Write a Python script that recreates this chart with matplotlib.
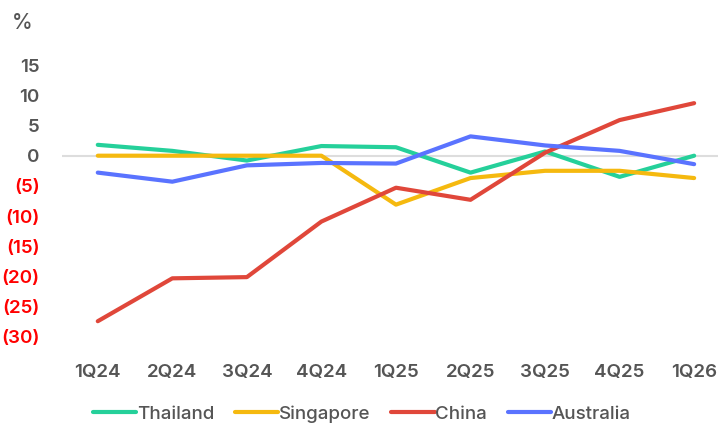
import numpy as np
import matplotlib
matplotlib.use("Agg")
import matplotlib.pyplot as plt

plt.rcParams['font.family'] = ['Inter', 'DejaVu Sans']

quarters = ['1Q24', '2Q24', '3Q24', '4Q24', '1Q25', '2Q25', '3Q25', '4Q25', '1Q26']
thailand = [1.8, 0.8, -0.8, 1.6, 1.4, -2.8, 0.7, -3.5, 0.0]
singapore = [0.0, 0.0, 0.0, 0.0, -8.1, -3.7, -2.5, -2.5, -3.7]
china = [-27.4, -20.3, -20.1, -10.9, -5.3, -7.3, 0.5, 5.9, 8.7]
australia = [-2.8, -4.3, -1.6, -1.2, -1.3, 3.2, 1.7, 0.8, -1.4]

yticks = [15, 10, 5, 0, -5, -10, -15, -20, -25, -30]
ytick_labels = ['15', '10', '5', '0', '(5)', '(10)', '(15)', '(20)', '(25)', '(30)']

series = [
    ('Thailand', thailand, '#25d09a'),
    ('Singapore', singapore, '#f5b90f'),
    ('China', china, '#e0473a'),
    ('Australia', australia, '#5a73ff'),
]

fig = plt.figure(figsize=(7.18, 4.23), dpi=100)
ax = fig.add_axes([62 / 718, 1 - 349 / 423, 1 - 62 / 718, (349 - 50) / 423])

x = np.arange(len(quarters))
ax.axhline(0, color='#dddddd', lw=1.5, zorder=1)
for name, vals, col in series:
    ax.plot(x, vals, color=col, lw=3.0, solid_capstyle='round', label=name, zorder=3)

ax.set_xlim(-0.48, 8.32)
ax.set_ylim(-32, 17.5)
ax.set_xticks(x)
ax.set_xticklabels(quarters, fontsize=13.5, fontweight=600, color='#555555')
ax.set_yticks(yticks)
ax.set_yticklabels(ytick_labels, fontsize=13.5, fontweight=600)
for lab, v in zip(ax.get_yticklabels(), yticks):
    lab.set_color('#ff0000' if v < 0 else '#555555')
ax.tick_params(axis='both', length=0)
ax.tick_params(axis='y', pad=16)
ax.tick_params(axis='x', pad=11)
for s in ax.spines.values():
    s.set_visible(False)

fig.text(12 / 718, 1 - 23 / 423, '%', fontsize=15, fontweight=500, color='#555555', va='center')

leg = fig.legend(loc='center', bbox_to_anchor=(362 / 718, 1 - 414 / 423), ncol=4, frameon=False,
                 fontsize=13.5, handlelength=2.3, handletextpad=0.05, columnspacing=1.1,
                 labelcolor='#555555')
for t in leg.get_texts():
    t.set_fontweight(500)

fig.savefig('out.png', dpi=100)
